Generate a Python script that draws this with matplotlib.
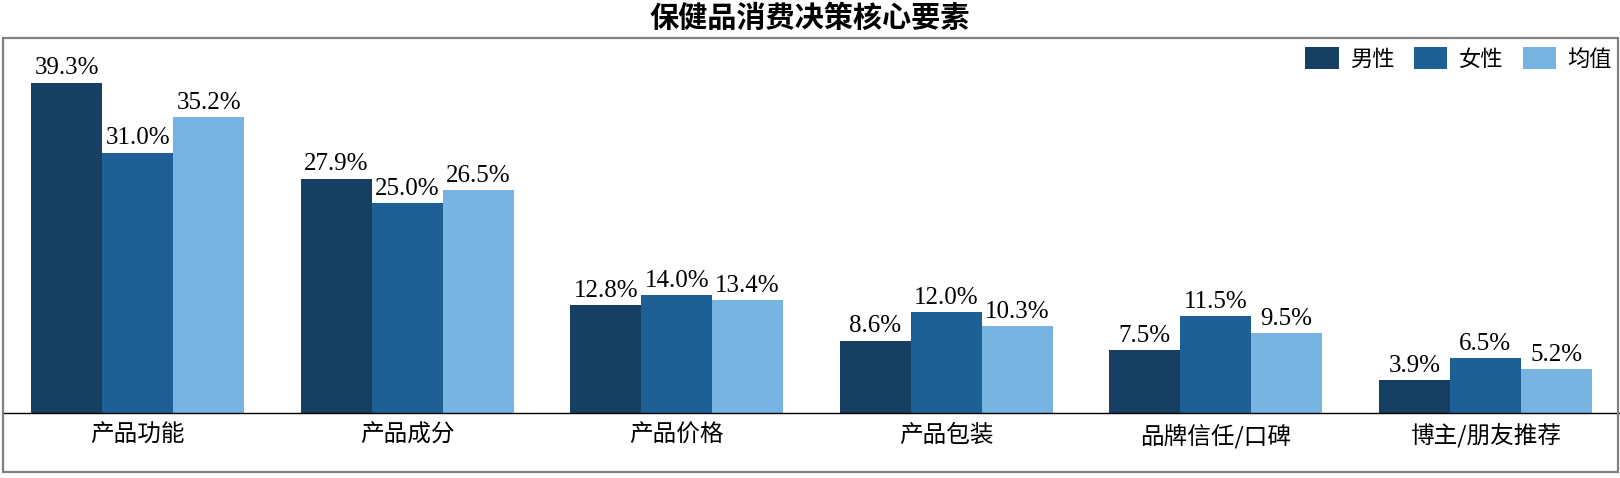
import numpy as np
import matplotlib
matplotlib.use("Agg")
import matplotlib.pyplot as plt
from matplotlib.patches import Rectangle

categories = ["产品功能", "产品成分", "产品价格", "产品包装", "品牌信任/口碑", "博主/朋友推荐"]
series_names = ["男性", "女性", "均值"]
male = [39.3, 27.9, 12.8, 8.6, 7.5, 3.9]
female = [31.0, 25.0, 14.0, 12.0, 11.5, 6.5]
average = [35.2, 26.5, 13.4, 10.3, 9.5, 5.2]

colors = ["#163f62", "#1e6095", "#77b4e2"]
cjk = ["Noto Sans CJK SC", "DejaVu Sans"]
num_font = "Liberation Serif"

W, H = 1620, 478
fig = plt.figure(figsize=(W / 100, H / 100), dpi=100)

# plot area: baseline at y=413px, top at frame (37px)
ax = fig.add_axes([3 / W, (H - 413) / H, (W - 3) / W, (413 - 37) / H])
ax.set_xlim(-0.5, len(categories) - 0.5)
ax.set_ylim(0, 44.76)

x = np.arange(len(categories))
bw = 0.263
for i, (vals, name) in enumerate(zip([male, female, average], series_names)):
    pos = x + (i - 1) * bw
    bars = ax.bar(pos, vals, width=bw, color=colors[i], label=name, zorder=2)
    for b, v in zip(bars, vals):
        ax.annotate(f"{v:.1f}%", (b.get_x() + b.get_width() / 2, v),
                    xytext=(0, 2.5), textcoords="offset points",
                    ha="center", va="bottom", fontsize=18, family=num_font)

for s in ["top", "left", "right"]:
    ax.spines[s].set_visible(False)
ax.spines["bottom"].set_color("black")
ax.spines["bottom"].set_linewidth(1.0)
ax.set_yticks([])
ax.set_xticks(x)
ax.set_xticklabels(categories, family=cjk, fontsize=17)
ax.tick_params(axis="x", length=0, pad=8)

# outer grey frame
fig.patches.append(Rectangle((3 / W, 6 / H), (1618 - 3) / W, (H - 37.5 - 6) / H,
                             transform=fig.transFigure, fill=False,
                             edgecolor="#808080", linewidth=1.6, zorder=5))

fig.text(0.5, 1 - 18 / H, "保健品消费决策核心要素", ha="center", va="center",
         fontsize=21, fontweight="bold", family=cjk)

leg = ax.legend(loc="center right", bbox_to_anchor=(1612 / W, 1 - 59 / H),
                bbox_transform=fig.transFigure, ncol=3, frameon=False,
                prop={"family": cjk, "size": 16}, handlelength=1.5,
                handleheight=1.15, handletextpad=0.5, columnspacing=0.9,
                borderpad=0, borderaxespad=0)

fig.savefig("out.png", dpi=100)
